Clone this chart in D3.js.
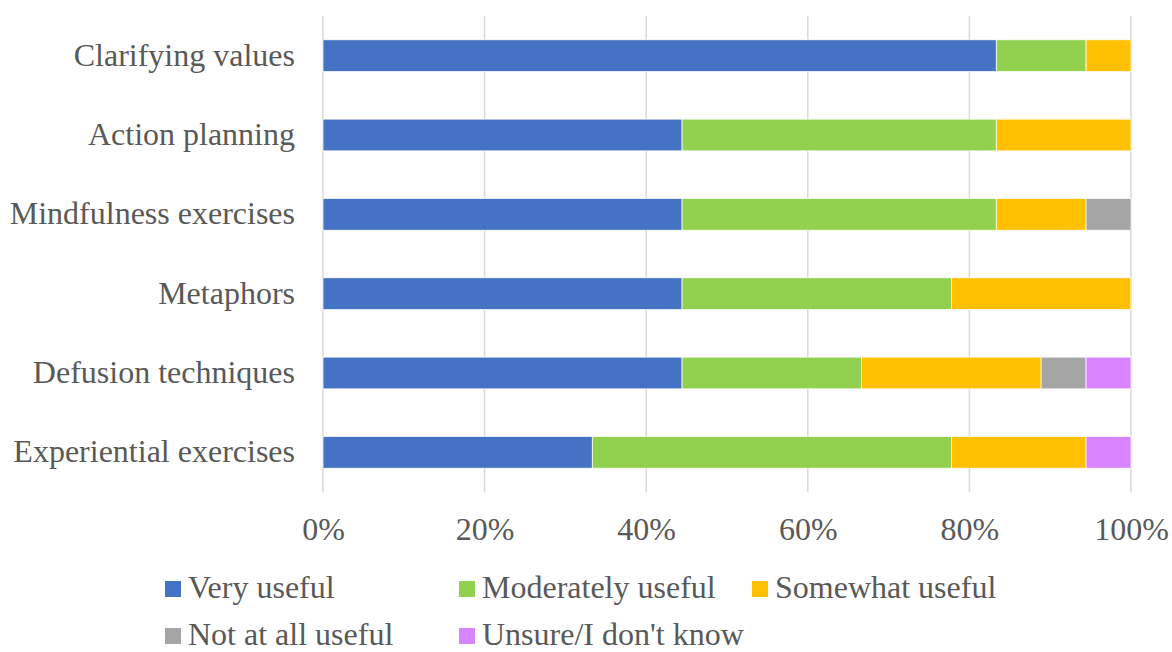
<!DOCTYPE html>
<html><head><meta charset="utf-8">
<script src="https://cdn.jsdelivr.net/npm/d3@7"></script>
<style>body{margin:0;background:#fff}svg{display:block}
svg text{font-family:"Liberation Serif","Times New Roman",serif !important;}</style>
</head><body>
<svg id="c" width="1172" height="652"></svg>
<script>
const categories = ["Clarifying values","Action planning","Mindfulness exercises","Metaphors","Defusion techniques","Experiential exercises"];
const seriesNames = ["Very useful","Moderately useful","Somewhat useful","Not at all useful","Unsure/I don't know"];
const veryUseful       = [83.33, 44.44, 44.44, 44.44, 44.44, 33.33];
const moderatelyUseful = [11.11, 38.89, 38.89, 33.33, 22.22, 44.44];
const somewhatUseful   = [5.56, 16.67, 11.11, 22.22, 22.22, 16.67];
const notAtAllUseful   = [0, 0, 5.56, 0, 5.56, 0];
const unsure           = [0, 0, 0, 0, 5.56, 5.56];
const tickValues = [0, 20, 40, 60, 80, 100];
const colors = ["#4472C4","#92D050","#FFC000","#A5A5A5","#D883FF"];

const series = [veryUseful, moderatelyUseful, somewhatUseful, notAtAllUseful, unsure];
const rows = categories.map((c,i)=>{const o={cat:c}; seriesNames.forEach((s,j)=>o[s]=series[j][i]); return o;});
const stacked = d3.stack().keys(seriesNames)(rows);

const svg = d3.select("#c");
const textColor = "#595959";
const fs = 32;
const x = d3.scaleLinear().domain([0,100]).range([323,1131]);
const y = d3.scaleBand().domain(categories).range([16,492]).paddingInner(0.6).paddingOuter(0.3);

// gridlines
svg.append("g").selectAll("line").data(tickValues).join("line")
  .attr("x1",d=>x(d)).attr("x2",d=>x(d)).attr("y1",16).attr("y2",492)
  .attr("stroke","#d9d9d9").attr("stroke-width",1.5);

// bars
svg.append("g").selectAll("g").data(stacked).join("g")
  .attr("fill",(d,i)=>colors[i])
  .selectAll("rect").data(d=>d.filter(e=>e[1]-e[0]>0)).join("rect")
  .attr("x",d=>x(d[0])).attr("width",d=>x(d[1])-x(d[0]))
  .attr("y",d=>y(d.data.cat)).attr("height",y.bandwidth())
  .attr("stroke","#fff").attr("stroke-width",0.75);

// x axis labels
const xa = svg.append("g").attr("transform","translate(0,492)")
  .call(d3.axisBottom(x).tickValues(tickValues).tickFormat(d=>d+"%").tickSize(0).tickPadding(0));
xa.select(".domain").remove();
xa.selectAll("text").attr("font-size",fs).attr("fill",textColor)
  .attr("dy",null).attr("y",48);

// y axis labels
const ya = svg.append("g").attr("transform","translate(323,0)")
  .call(d3.axisLeft(y).tickSize(0).tickPadding(28));
ya.select(".domain").remove();
ya.selectAll("text").attr("font-size",fs).attr("fill",textColor)
  .attr("dy","0.31em");

// legend
const legPos = [[165,589],[459,589],[752,589],[165,636],[459,636]];
const leg = svg.append("g").selectAll("g").data(seriesNames).join("g")
  .attr("transform",(d,i)=>`translate(${legPos[i][0]},${legPos[i][1]})`);
leg.append("rect").attr("x",0).attr("y",-8).attr("width",16).attr("height",16).attr("fill",(d,i)=>colors[i]);
leg.append("text").attr("x",23).attr("y",9).text(d=>d)
  .attr("font-size",32).attr("fill",textColor);
</script>
</body></html>
